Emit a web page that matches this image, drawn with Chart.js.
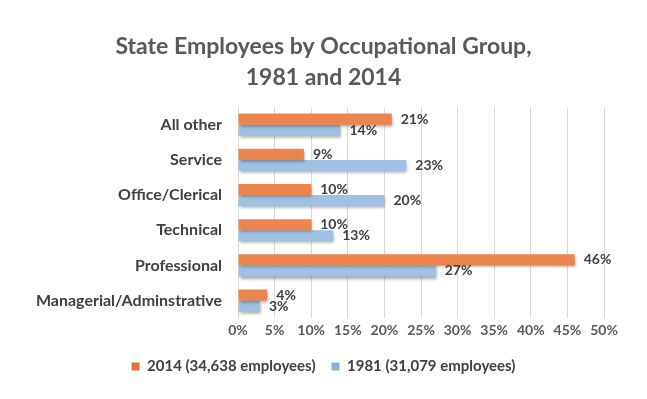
<!DOCTYPE html>
<html>
<head>
<meta charset="utf-8">
<script src="https://cdn.jsdelivr.net/npm/chart.js@4"></script>
<style>
  html, body { margin: 0; padding: 0; background: #fff; }
  #wrap { width: 647px; height: 399px; }
</style>
</head>
<body>
<div id="wrap"><canvas id="BarChart" width="647" height="399"></canvas></div>
<script>
// Chart data
const categories = ['All other', 'Service', 'Office/Clerical', 'Technical', 'Professional', 'Managerial/Adminstrative'];
const values2014 = [21, 9, 10, 10, 46, 4];
const values1981 = [14, 23, 20, 13, 27, 3];
const seriesNames = ['2014 (34,638 employees)', '1981 (31,079 employees)'];
const titleLines = ['State Employees by Occupational Group,', '1981 and 2014'];

const ctx = document.getElementById('BarChart').getContext('2d');

// vertical gradient per bar so it looks like the Excel bevel
function barFill(top, bottom) {
    return function (c) {
        const chart = c.chart;
        const el = c.element;
        if (!el || !chart.chartArea) return top;
        const y0 = el.y - el.height / 2;
        const y1 = el.y + el.height / 2;
        if (!isFinite(y0) || !isFinite(y1) || y0 === y1) return top;
        const g = chart.ctx.createLinearGradient(0, y0, 0, y1);
        g.addColorStop(0, top);
        g.addColorStop(1, bottom);
        return g;
    };
}

// soft drop shadow under the bars
const barShadow = {
    id: 'barShadow',
    beforeDatasetDraw(chart) {
        const c = chart.ctx;
        c.save();
        c.shadowColor = 'rgba(0,0,0,0.35)';
        c.shadowBlur = 3;
        c.shadowOffsetX = 1;
        c.shadowOffsetY = 2;
    },
    afterDatasetDraw(chart) {
        chart.ctx.restore();
    }
};

// draw the % labels at the end of each bar
const valueLabels = {
    id: 'valueLabels',
    afterDatasetsDraw(chart) {
        const c = chart.ctx;
        c.save();
        c.font = 'bold 14px Lato';
        c.fillStyle = '#404040';
        c.textBaseline = 'middle';
        c.textAlign = 'left';
        chart.data.datasets.forEach((ds, i) => {
            chart.getDatasetMeta(i).data.forEach((bar, j) => {
                c.fillText(ds.data[j] + '%', bar.x + 9, bar.y);
            });
        });
        c.restore();
    }
};

const barChart = new Chart(ctx, {
    type: 'bar',
    data: {
        labels: categories,
        datasets: [{
            label: seriesNames[0],
            data: values2014,
            backgroundColor: barFill('#EC844E', '#D05F28'),
            borderWidth: 0,
            categoryPercentage: 0.63,
            barPercentage: 1.0
        }, {
            label: seriesNames[1],
            data: values1981,
            backgroundColor: barFill('#A0C1E3', '#78A2CE'),
            borderWidth: 0,
            categoryPercentage: 0.63,
            barPercentage: 1.0
        }]
    },
    options: {
        indexAxis: 'y',
        responsive: false,
        animation: false,
        layout: {
            padding: { left: 0, right: 0, top: 0, bottom: 15 }
        },
        plugins: {
            title: {
                display: true,
                text: titleLines,
                color: '#595959',
                font: { family: 'Lato', size: 23, weight: 'bold', lineHeight: 1.35 },
                padding: { top: 31, bottom: 14 }
            },
            legend: {
                position: 'bottom',
                labels: {
                    color: '#404040',
                    font: { family: 'Lato', size: 15, weight: 'bold' },
                    boxWidth: 8,
                    boxHeight: 8,
                    padding: 16,
                    generateLabels(chart) {
                        const cols = ['#E3733A', '#8AB1DA'];
                        return chart.data.datasets.map((ds, i) => ({
                            text: ds.label,
                            fillStyle: cols[i],
                            strokeStyle: cols[i],
                            lineWidth: 0,
                            datasetIndex: i,
                            fontColor: '#404040'
                        }));
                    }
                }
            },
            tooltip: { enabled: false }
        },
        scales: {
            x: {
                min: 0,
                max: 50,
                ticks: {
                    stepSize: 5,
                    color: '#595959',
                    font: { family: 'Lato', size: 14, weight: 'bold' },
                    callback: v => v + '%',
                    padding: 4
                },
                grid: { color: '#D9D9D9', lineWidth: 1, drawTicks: false },
                border: { display: false }
            },
            y: {
                ticks: {
                    color: '#404040',
                    font: { family: 'Lato', size: 16, weight: 'bold' },
                    padding: 8
                },
                grid: { display: false },
                border: { display: true, color: '#D9D9D9' },
                afterFit(scale) { scale.width = 238; }
            },
            // empty right-hand axis: keeps a blank margin but lets title/legend centre on the canvas
            yRight: {
                type: 'linear',
                position: 'right',
                ticks: { display: false },
                grid: { display: false },
                border: { display: false },
                afterFit(scale) { scale.width = 43; }
            }
        }
    },
    plugins: [barShadow, valueLabels]
});
</script>
</body>
</html>
